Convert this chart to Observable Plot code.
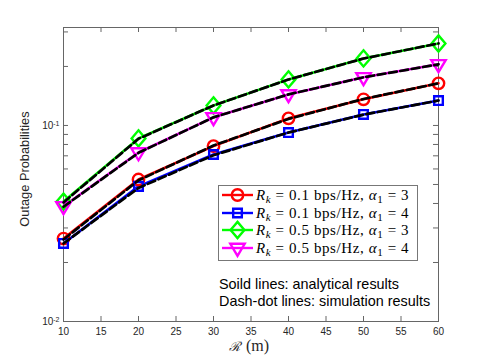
<!DOCTYPE html>
<html><head><meta charset="utf-8">
<script src="https://cdn.jsdelivr.net/npm/d3@7"></script>
<script src="https://cdn.jsdelivr.net/npm/@observablehq/plot@0.6"></script>
<style>body{margin:0;background:#fff;} #chart{width:485px;height:361px;}</style>
</head><body><div id="chart"></div>
<script>
// ---- data ----
const distances = [10, 20, 30, 40, 50, 60];
const seriesNames = ["R01a3", "R01a4", "R05a3", "R05a4"];
const seriesRk = ["0.1", "0.1", "0.5", "0.5"];
const seriesAlpha = ["3", "4", "3", "4"];
const seriesColors = ["#ff0000", "#0000ff", "#00ff00", "#ff00ff"];
// analytical (solid) results
const anaR01a3 = [0.0265, 0.0530, 0.0785, 0.1087, 0.1360, 0.1640];
const anaR01a4 = [0.0250, 0.0489, 0.0711, 0.0920, 0.1138, 0.1340];
const anaR05a3 = [0.0409, 0.0859, 0.1265, 0.1718, 0.2198, 0.2620];
const anaR05a4 = [0.0387, 0.0728, 0.1100, 0.1440, 0.1760, 0.2050];
// simulation (dash-dot) results
const simR01a3 = [0.0262, 0.0525, 0.0790, 0.1080, 0.1365, 0.1640];
const simR01a4 = [0.0250, 0.0480, 0.0705, 0.0920, 0.1135, 0.1340];
const simR05a3 = [0.0405, 0.0855, 0.1265, 0.1715, 0.2195, 0.2620];
const simR05a4 = [0.0385, 0.0725, 0.1100, 0.1440, 0.1760, 0.2050];
const xTicks = [10, 15, 20, 25, 30, 35, 40, 45, 50, 55, 60];
const yMajorTicks = [0.01, 0.1];
const yMinorTicks = [0.02, 0.03, 0.04, 0.05, 0.06, 0.07, 0.08, 0.09, 0.2, 0.3];
const yTickLabels = ["10^-2", "10^-1"];

const anaArr = [anaR01a3, anaR01a4, anaR05a3, anaR05a4];
const simArr = [simR01a3, simR01a4, simR05a3, simR05a4];
const toRows = arrs => arrs.flatMap((vals, i) => vals.map((v, j) => ({series: seriesNames[i], color: seriesColors[i], x: distances[j], y: v})));
const ana = toRows(anaArr);
const sim = toRows(simArr);

// ---- custom symbols (MATLAB-like markers) ----
const rad = size => Math.sqrt(size / Math.PI);
const symSquare = {draw(c, s) { const h = rad(s) * 0.72; c.moveTo(-h, -h); c.lineTo(h, -h); c.lineTo(h, h); c.lineTo(-h, h); c.closePath(); }};
const symDiamond = {draw(c, s) { const r = rad(s); const w = r * 1.15, h = r * 1.35; c.moveTo(0, -h); c.lineTo(w, 0); c.lineTo(0, h); c.lineTo(-w, 0); c.closePath(); }};
const symTriDown = {draw(c, s) { const r = rad(s); const w = r * 1.2; c.moveTo(-w, -r * 0.7); c.lineTo(w, -r * 0.7); c.lineTo(0, r * 1.3); c.closePath(); }};
const symCircle = {draw(c, s) { const r = rad(s) * 0.95; c.moveTo(r, 0); c.arc(0, 0, r, 0, 2 * Math.PI); }};
const symbols = [symCircle, symSquare, symDiamond, symTriDown];

const W = 485, H = 361, mL = 63, mR = 47, mT = 27, mB = 40;
const fw = W - mL - mR, fh = H - mT - mB, tl = 5;
const axisColor = "#262626";

const marks = [
  Plot.frame({stroke: "#666", strokeWidth: 1}),
  Plot.tickX(xTicks, {x: d => d, insetTop: fh - tl, stroke: "#666"}),
  Plot.tickX(xTicks, {x: d => d, insetBottom: fh - tl, stroke: "#666"}),
  Plot.tickY(yMajorTicks.concat(yMinorTicks), {y: d => d, insetRight: fw - tl, stroke: "#666"}),
  Plot.tickY(yMajorTicks.concat(yMinorTicks), {y: d => d, insetLeft: fw - tl, stroke: "#666"}),
  Plot.axisX({ticks: xTicks, tickSize: 0, tickPadding: 6, fontSize: 10, color: axisColor, label: null, tickFormat: d => String(d)}),
  Plot.axisY({ticks: yMajorTicks, tickSize: 0, tickPadding: 4, fontSize: 10, color: axisColor, label: null, tickFormat: (d) => yTickLabels[yMajorTicks.indexOf(d)]}),
  Plot.line(ana, {x: "x", y: "y", z: "series", stroke: "color", strokeWidth: 2.6}),
  ...seriesNames.map((s, i) => Plot.dot(ana.filter(d => d.series === s), {x: "x", y: "y", r: 6, symbol: () => symbols[i], stroke: seriesColors[i], strokeWidth: 2.4, fill: "none"})),
  Plot.line(sim, {x: "x", y: "y", z: "series", stroke: "black", strokeWidth: 2.7, strokeDasharray: "8,3.5"})
];

const chart = Plot.plot({
  width: W, height: H,
  marginLeft: mL, marginRight: mR, marginTop: mT, marginBottom: mB,
  x: {type: "linear", domain: [10, 60]},
  y: {type: "log", domain: [0.01, 0.316]},
  symbol: {type: "identity"},
  style: {background: "white", fontFamily: "'Liberation Sans', Arial, sans-serif"},
  marks
});
document.getElementById("chart").appendChild(chart);

const svg = d3.select(chart);
// superscripts on y tick labels
svg.selectAll('g[aria-label="y-axis tick label"] text').each(function() {
  const t = d3.select(this);
  const txt = t.text();
  if (txt.includes("^")) {
    const [base, exp] = txt.split("^");
    t.text(null);
    t.append("tspan").text(base);
    t.append("tspan").attr("dy", "-0.45em").attr("font-size", 7).text(exp);
  }
});

// axis labels
svg.append("text").attr("transform", `translate(29,169) rotate(-90)`)
  .attr("text-anchor", "middle").attr("font-family", "'Liberation Sans', Arial, sans-serif")
  .attr("font-size", 12.8).attr("fill", axisColor).text("Outage Probabilities");
const xl = svg.append("text").attr("y", 351).attr("text-anchor", "start")
  .attr("font-family", "'Liberation Serif', serif").attr("font-size", 16).attr("fill", axisColor);
xl.append("tspan").attr("x", 229).attr("font-family", "'DejaVu Serif', serif").attr("font-style", "italic").attr("font-size", 13).text("ℛ");
xl.append("tspan").attr("x", 246).text("(m)");

// legend
const lg = svg.append("g").attr("text-anchor", "start");
lg.append("rect").attr("x", 218.5).attr("y", 185.5).attr("width", 199).attr("height", 75)
  .attr("fill", "white").attr("stroke", "#777").attr("stroke-width", 1);
const rowY = [195, 213, 230, 248];
seriesNames.forEach((s, i) => {
  const y = rowY[i];
  lg.append("line").attr("x1", 222).attr("x2", 253).attr("y1", y).attr("y2", y)
    .attr("stroke", seriesColors[i]).attr("stroke-width", 2.4);
  lg.append("path").attr("transform", `translate(237.5,${y})`)
    .attr("d", d3.symbol(symbols[i], Math.PI * 36)()).attr("fill", "none")
    .attr("stroke", seriesColors[i]).attr("stroke-width", 2.4);
  const t = lg.append("text").attr("x", 256).attr("y", y + 5).attr("text-anchor", "start")
    .attr("font-family", "'Liberation Serif', 'Times New Roman', serif").attr("font-size", 15)
    .attr("letter-spacing", 0.6).attr("fill", "#000");
  t.append("tspan").attr("font-style", "italic").text("R");
  t.append("tspan").attr("font-style", "italic").attr("font-size", 11).attr("dy", 3).text("k");
  t.append("tspan").attr("dy", -3).text(` = ${seriesRk[i]} bps/Hz, `);
  t.append("tspan").attr("font-style", "italic").text("α");
  t.append("tspan").attr("font-size", 11).attr("dy", 3).text("1");
  t.append("tspan").attr("dy", -3).text(` = ${seriesAlpha[i]}`);
});

// annotations
const notes = ["Soild lines: analytical results", "Dash-dot lines: simulation results"];
notes.forEach((n, i) => {
  svg.append("text").attr("x", 219).attr("y", 289 + i * 17).attr("text-anchor", "start")
    .attr("font-family", "'Liberation Sans', Arial, sans-serif").attr("font-size", 14.4)
    .attr("fill", "#000").text(n);
});
</script>
</body></html>
